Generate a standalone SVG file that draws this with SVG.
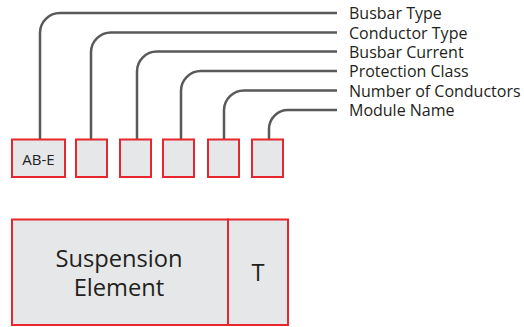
<svg xmlns="http://www.w3.org/2000/svg" width="524" height="327" viewBox="0 0 524 327">
<style>
.box{fill:#e6e7e8;stroke:#e8262d;stroke-width:2}
.ln{fill:none;stroke:#58595b;stroke-width:2.5}
.lbl{font-family:"Open Sans","DejaVu Sans",sans-serif;font-size:16px;fill:#231f20}
.t{font-family:"Open Sans","DejaVu Sans",sans-serif;fill:#231f20;text-anchor:middle}
</style>
<rect width="524" height="327" fill="#fff"/>
<g id="connectors">
<path class="ln" d="M40,139 V33 A20,20 0 0 1 60,13 H337"/>
<path class="ln" d="M91,139 V52 A20,20 0 0 1 111,32.5 H337"/>
<path class="ln" d="M137,139 V71.5 A20,20 0 0 1 157,51.5 H337"/>
<path class="ln" d="M181,139 V91 A20,20 0 0 1 201,71 H337"/>
<path class="ln" d="M224,139 V110 A20,20 0 0 1 244,90.5 H337"/>
<path class="ln" d="M269,139 V129 A19,19 0 0 1 288,110 H337"/>
</g>
<g id="labels">
<text class="lbl" x="349" y="19">Busbar Type</text>
<text class="lbl" x="349" y="38.5">Conductor Type</text>
<text class="lbl" x="349" y="57.5">Busbar Current</text>
<text class="lbl" x="349" y="77">Protection Class</text>
<text class="lbl" x="349" y="96.5">Number of Conductors</text>
<text class="lbl" x="349" y="116">Module Name</text>
</g>
<g id="box1"><rect class="box" x="12" y="139.5" width="53" height="37.5"/><text class="t" x="38.5" y="165" font-size="15">AB-E</text></g>
<g id="box2"><rect class="box" x="76" y="139.5" width="31" height="37.5"/></g>
<g id="box3"><rect class="box" x="120" y="139.5" width="31" height="37.5"/></g>
<g id="box4"><rect class="box" x="163" y="139.5" width="31" height="37.5"/></g>
<g id="box5"><rect class="box" x="208" y="139.5" width="31" height="37.5"/></g>
<g id="box6"><rect class="box" x="252" y="139.5" width="31" height="37.5"/></g>
<g id="suspension"><rect class="box" x="12" y="219.5" width="216" height="105.5"/><text class="t" x="119" y="267" font-size="23.7">Suspension</text><text class="t" x="119" y="296" font-size="23.7">Element</text></g>
<g id="t-box"><rect class="box" x="228" y="219.5" width="60" height="105.5"/><text class="t" x="258" y="281" font-size="23.7">T</text></g>
</svg>
